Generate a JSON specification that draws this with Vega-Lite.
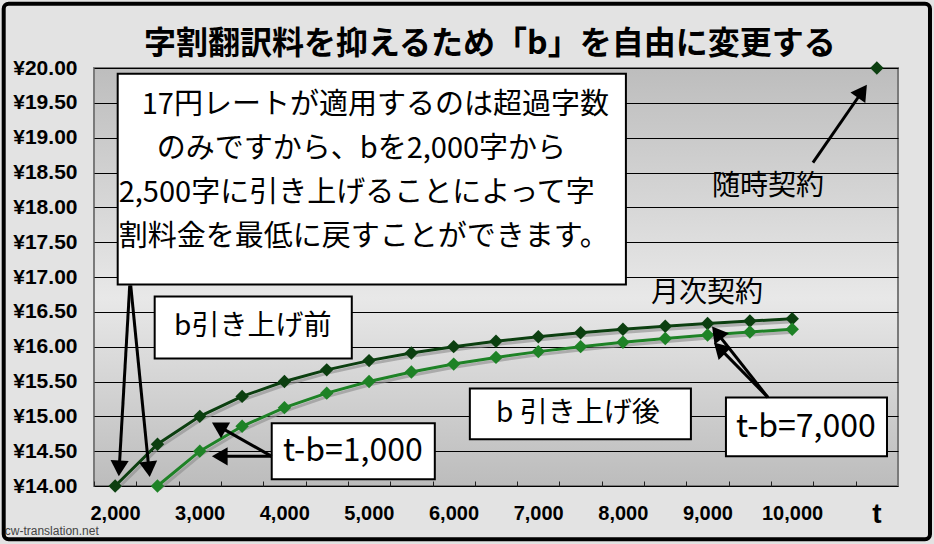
{
  "$schema": "https://vega.github.io/schema/vega-lite/v6.json",
  "width": 804,
  "height": 418,
  "autosize": {"type": "none"},
  "padding": {"left": 94, "top": 68, "right": 36, "bottom": 58},
  "background": "#e3e3e3",
  "datasets": {
    "series": [
      {"t": 2000, "fee": 14.0, "s": "before"},
      {"t": 2500, "fee": 14.6, "s": "before"},
      {"t": 3000, "fee": 15.0, "s": "before"},
      {"t": 3500, "fee": 15.286, "s": "before"},
      {"t": 4000, "fee": 15.5, "s": "before"},
      {"t": 4500, "fee": 15.667, "s": "before"},
      {"t": 5000, "fee": 15.8, "s": "before"},
      {"t": 5500, "fee": 15.909, "s": "before"},
      {"t": 6000, "fee": 16.0, "s": "before"},
      {"t": 6500, "fee": 16.077, "s": "before"},
      {"t": 7000, "fee": 16.143, "s": "before"},
      {"t": 7500, "fee": 16.2, "s": "before"},
      {"t": 8000, "fee": 16.25, "s": "before"},
      {"t": 8500, "fee": 16.294, "s": "before"},
      {"t": 9000, "fee": 16.333, "s": "before"},
      {"t": 9500, "fee": 16.368, "s": "before"},
      {"t": 10000, "fee": 16.4, "s": "before"},
      {"t": 2500, "fee": 14.0, "s": "after"},
      {"t": 3000, "fee": 14.5, "s": "after"},
      {"t": 3500, "fee": 14.857, "s": "after"},
      {"t": 4000, "fee": 15.125, "s": "after"},
      {"t": 4500, "fee": 15.333, "s": "after"},
      {"t": 5000, "fee": 15.5, "s": "after"},
      {"t": 5500, "fee": 15.636, "s": "after"},
      {"t": 6000, "fee": 15.75, "s": "after"},
      {"t": 6500, "fee": 15.846, "s": "after"},
      {"t": 7000, "fee": 15.929, "s": "after"},
      {"t": 7500, "fee": 16.0, "s": "after"},
      {"t": 8000, "fee": 16.063, "s": "after"},
      {"t": 8500, "fee": 16.118, "s": "after"},
      {"t": 9000, "fee": 16.167, "s": "after"},
      {"t": 9500, "fee": 16.211, "s": "after"},
      {"t": 10000, "fee": 16.25, "s": "after"}
    ],
    "spot": [{"t": 11000, "fee": 20.0}],
    "boxes": [
      {"t": 2030, "t2": 8035, "fee": 19.918, "fee2": 16.893},
      {"t": 2467, "t2": 4796, "fee": 16.72, "fee2": 15.831},
      {"t": 3850, "t2": 5777, "fee": 14.899, "fee2": 14.096},
      {"t": 6191, "t2": 8803, "fee": 15.401, "fee2": 14.67},
      {"t": 9217, "t2": 11120, "fee": 15.272, "fee2": 14.426}
    ],
    "arrows": [
      {"t": 2048, "fee": 14.254, "t2": 2172, "fee2": 16.878, "angle": 183},
      {"t": 2399, "fee": 14.24, "t2": 2184, "fee2": 16.878, "angle": 174},
      {"t": 3224, "fee": 14.856, "t2": 3850, "fee2": 14.426, "angle": 300},
      {"t": 3236, "fee": 14.426, "t2": 3850, "fee2": 14.426, "angle": 270},
      {"t": 9110, "fee": 16.2, "t2": 9713, "fee2": 15.272, "angle": 322},
      {"t": 9141, "fee": 15.979, "t2": 9713, "fee2": 15.272, "angle": 315},
      {"t": 10829, "fee": 19.666, "t2": 10245, "fee2": 18.642, "angle": 35}
    ],
    "heading": [{"t": 6427, "fee": 20.348, "label": "字割翻訳料を抑えるため「b」を自由に変更する"}],
    "note": [
      {"t": 2314, "fee": 19.474, "label": "17円レートが適用するのは超過字数"},
      {"t": 2491, "fee": 18.843, "label": "のみですから、bを2,000字から"},
      {"t": 2042, "fee": 18.212, "label": "2,500字に引き上げることによって字"},
      {"t": 2042, "fee": 17.581, "label": "割料金を最低に戻すことができます。"}
    ],
    "labels": [
      {"t": 3626, "fee": 16.276, "label": "b引き上げ前"},
      {"t": 7467, "fee": 15.028, "label": "b 引き上げ後"},
      {"t": 8992, "fee": 16.763, "label": "月次契約"},
      {"t": 9713, "fee": 18.298, "label": "随時契約"}
    ],
    "diffs": [
      {"t": 4808, "fee": 14.498, "label": "t-b=1,000"},
      {"t": 10162, "fee": 14.842, "label": "t-b=7,000"}
    ],
    "axisname": [{"t": 11000, "fee": 13.58, "label": "t"}],
    "credit": [{"t": 695, "fee": 13.35, "label": "cw-translation.net"}],
    "frame": [{"t": 683, "t2": 11628, "fee": 20.922, "fee2": 13.236}]
  },
  "encoding": {
    "x": {
      "field": "t",
      "type": "quantitative",
      "title": null,
      "scale": {"domain": [1750, 11250], "nice": false, "zero": false},
      "axis": {
        "values": [1750, 2250, 2750, 3250, 3750, 4250, 4750, 5250, 5750, 6250, 6750, 7250, 7750, 8250, 8750, 9250, 9750, 10250, 10750],
        "tickCount": 30,
        "labelExpr": "(datum.value - 1750) % 1000 == 0 && datum.value < 10750 ? format(datum.value + 250, ',') : ''",
        "labelOffset": 21,
        "labelFontSize": 20,
        "offset": -5,
        "tickSize": 5,
        "tickWidth": 1,
        "tickColor": "#222222",
        "labelPadding": 17,
        "grid": false,
        "domain": false,
        "labelOverlap": false,
        "labelFlush": false,
        "labelBound": false
      }
    },
    "y": {
      "field": "fee",
      "type": "quantitative",
      "title": null,
      "scale": {"domain": [14, 20], "nice": false, "zero": false},
      "axis": {
        "values": [14, 14.5, 15, 15.5, 16, 16.5, 17, 17.5, 18, 18.5, 19, 19.5, 20],
        "tickCount": 20,
        "labelExpr": "'¥' + format(datum.value, '.2f')",
        "ticks": false,
        "domain": false,
        "grid": true,
        "gridColor": "#000000",
        "gridWidth": 1,
        "labelPadding": 17,
        "labelFontSize": 21,
        "labelOverlap": false,
        "labelFlush": false
      }
    }
  },
  "layer": [
    {
      "data": {"name": "series"},
      "mark": {"type": "line", "color": "#8c8c8c", "opacity": 0.6, "strokeWidth": 3, "xOffset": 2, "yOffset": 3},
      "encoding": {"detail": {"field": "s"}}
    },
    {
      "data": {"name": "series"},
      "mark": {"type": "line", "strokeWidth": 3, "point": {"shape": "diamond", "size": 180, "filled": true}},
      "encoding": {
        "color": {
          "field": "s",
          "type": "nominal",
          "scale": {"domain": ["before", "after"], "range": ["#0c3f10", "#1e8226"]},
          "legend": null
        }
      }
    },
    {
      "data": {"name": "spot"},
      "mark": {"type": "point", "shape": "diamond", "size": 180, "filled": true, "color": "#0c3f10", "opacity": 1}
    },
    {
      "data": {"name": "boxes"},
      "mark": {"type": "rect", "fill": "white", "stroke": "black", "strokeWidth": 2},
      "encoding": {"x2": {"field": "t2"}, "y2": {"field": "fee2"}}
    },
    {
      "data": {"name": "arrows"},
      "mark": {"type": "rule", "color": "black", "strokeWidth": 3},
      "encoding": {"x2": {"field": "t2"}, "y2": {"field": "fee2"}}
    },
    {
      "data": {"name": "arrows"},
      "mark": {"type": "point", "shape": "triangle-up", "size": 330, "filled": true, "color": "black", "opacity": 1},
      "encoding": {"angle": {"field": "angle", "type": "quantitative", "scale": null}}
    },
    {
      "data": {"name": "heading"},
      "mark": {"type": "text", "align": "center", "baseline": "middle", "font": "Noto Sans CJK JP", "fontSize": 32, "fontWeight": "bold", "color": "black"},
      "encoding": {"text": {"field": "label"}}
    },
    {
      "data": {"name": "note"},
      "mark": {"type": "text", "align": "left", "baseline": "middle", "font": "Noto Sans CJK JP", "fontSize": 29, "color": "black"},
      "encoding": {"text": {"field": "label"}}
    },
    {
      "data": {"name": "labels"},
      "mark": {"type": "text", "align": "center", "baseline": "middle", "font": "Noto Sans CJK JP", "fontSize": 28, "color": "black"},
      "encoding": {"text": {"field": "label"}}
    },
    {
      "data": {"name": "diffs"},
      "mark": {"type": "text", "align": "center", "baseline": "middle", "font": "Noto Sans CJK JP", "fontSize": 32, "color": "black"},
      "encoding": {"text": {"field": "label"}}
    },
    {
      "data": {"name": "axisname"},
      "mark": {"type": "text", "align": "center", "baseline": "middle", "font": "Liberation Sans", "fontWeight": "bold", "fontSize": 28, "color": "black"},
      "encoding": {"text": {"field": "label"}}
    },
    {
      "data": {"name": "credit"},
      "mark": {"type": "text", "align": "left", "baseline": "middle", "font": "Liberation Sans", "fontSize": 12, "color": "#444444"},
      "encoding": {"text": {"field": "label"}}
    },
    {
      "data": {"name": "frame"},
      "mark": {"type": "rect", "fill": null, "stroke": "black", "strokeWidth": 4, "cornerRadius": 5},
      "encoding": {"x2": {"field": "t2"}, "y2": {"field": "fee2"}}
    }
  ],
  "config": {
    "view": {
      "stroke": "#7a7a7a",
      "strokeWidth": 2,
      "fill": {
        "gradient": "linear",
        "x1": 0, "y1": 0, "x2": 0, "y2": 1,
        "stops": [
          {"offset": 0, "color": "#bdbdbd"},
          {"offset": 0.55, "color": "#e8e8e8"},
          {"offset": 1, "color": "#bcbcbc"}
        ]
      }
    },
    "axis": {
      "labelFont": "Liberation Sans",
      "labelFontWeight": "bold",
      "labelColor": "black"
    }
  }
}
